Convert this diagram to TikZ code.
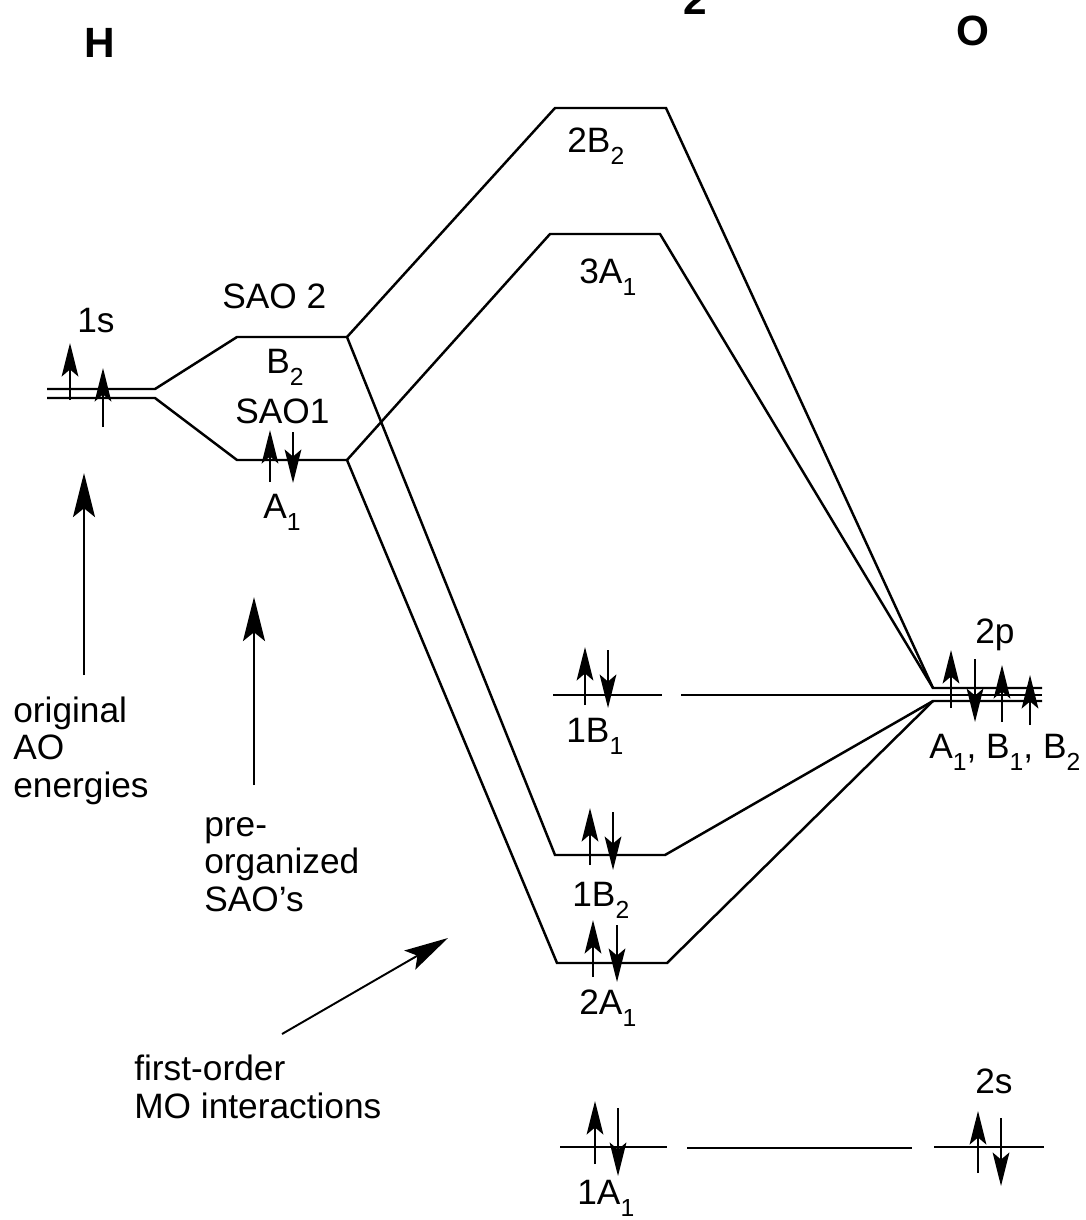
\documentclass[tikz,border=0pt]{standalone}
\usepackage{fontspec}
\setmainfont{Liberation Sans}
\usetikzlibrary{arrows.meta}
\newcommand\sbs[1]{\raisebox{-0.36em}{\fontsize{14}{14}\selectfont #1}}
\begin{document}
\begin{tikzpicture}[x=0.567pt,y=-0.567pt,
  lvl/.style={line width=1.4pt},
  spin/.style={line width=1.2pt,-{Stealth[length=19pt,width=9.5pt,inset=4pt]}},
  note/.style={line width=1.1pt,-{Stealth[length=25pt,width=12.5pt,inset=5pt]}},
  lab/.style={inner sep=0pt,anchor=base west,font={\fontsize{20}{21.5}\selectfont}},
  txt/.style={inner sep=0pt,anchor=base west,align=left,font={\fontsize{20}{21}\selectfont}},
  atom/.style={inner sep=0pt,anchor=base west,font={\fontsize{24}{28}\selectfont\bfseries}}]
\useasboundingbox (0,0) rectangle (1086,1220);
% level end points
\coordinate (H1a) at (47,389); \coordinate (H1b) at (155,389);
\coordinate (H2a) at (47,398); \coordinate (H2b) at (155,398);
\coordinate (S2a) at (237,337); \coordinate (S2b) at (347,337);
\coordinate (S1a) at (237,460); \coordinate (S1b) at (347,460);
\coordinate (B22a) at (555,108); \coordinate (B22b) at (666,108);
\coordinate (A13a) at (550,234); \coordinate (A13b) at (660,234);
\coordinate (B11a) at (553,695); \coordinate (B11b) at (662,695);
\coordinate (nb1a) at (681,695); \coordinate (Opm) at (1042,695);
\coordinate (Ota) at (933,688); \coordinate (Otb) at (1042,688);
\coordinate (Oba) at (933,701); \coordinate (Obb) at (1042,701);
\coordinate (B12a) at (555,855); \coordinate (B12b) at (665,855);
\coordinate (A12a) at (557,963); \coordinate (A12b) at (667,963);
\coordinate (A11a) at (560,1147); \coordinate (A11b) at (667,1147);
\coordinate (nb2a) at (687,1148); \coordinate (nb2b) at (912,1148);
\coordinate (O2sa) at (934,1147); \coordinate (O2sb) at (1044,1147);
% levels and correlation lines
\draw[lvl] (H1a) -- (H1b) -- (S2a) -- (S2b) -- (B22a) -- (B22b) -- (Ota) -- (Otb);
\draw[lvl] (H2a) -- (H2b) -- (S1a) -- (S1b) -- (A12a) -- (A12b) -- (Oba) -- (Obb);
\draw[lvl] (S1b) -- (A13a) -- (A13b) -- (Ota);
\draw[lvl] (S2b) -- (B12a) -- (B12b) -- (Oba);
\draw[lvl] (B11a) -- (B11b);
\draw[lvl] (nb1a) -- (Opm);
\draw[lvl] (A11a) -- (A11b);
\draw[lvl] (nb2a) -- (nb2b);
\draw[lvl] (O2sa) -- (O2sb);
% electrons
\draw[spin] (70,400) -- (70,343);
\draw[spin] (103,427) -- (103,368);
\draw[spin] (270,482) -- (270,430);
\draw[spin] (293,432) -- (293,483);
\draw[spin] (585,705) -- (585,647);
\draw[spin] (608,650) -- (608,708);
\draw[spin] (590,865) -- (590,808);
\draw[spin] (613,812) -- (613,870);
\draw[spin] (593,977) -- (593,920);
\draw[spin] (617,925) -- (617,982);
\draw[spin] (595,1164) -- (595,1101);
\draw[spin] (618,1108) -- (618,1176);
\draw[spin] (978,1173) -- (978,1111);
\draw[spin] (1001,1118) -- (1001,1186);
\draw[spin] (951,708) -- (951,650);
\draw[spin] (975,659) -- (975,722);
\draw[spin] (1002,722) -- (1002,665);
\draw[spin] (1030,725) -- (1030,675);
% atom labels
\node[atom] (tH) at (84,57) {H};
\node[atom] (tO) at (956,45) {O};
\node[atom] (t2) at (683,14) {2};
% level labels
\node[lab] (l1s) at (77,332) {1s};
\node[lab] (lsao2) at (222,308) {SAO 2};
\node[lab] (lb2) at (266,373) {B\sbs{2}};
\node[lab] (lsao1) at (235,423) {SAO1};
\node[lab] (la1) at (263,518) {A\sbs{1}};
\node[lab] (l2b2) at (567,152) {2B\sbs{2}};
\node[lab] (l3a1) at (579,283) {3A\sbs{1}};
\node[lab] (l1b1) at (566,742) {1B\sbs{1}};
\node[lab] (l1b2) at (572,906) {1B\sbs{2}};
\node[lab] (l2a1) at (579,1014) {2A\sbs{1}};
\node[lab] (l1a1) at (577,1204) {1A\sbs{1}};
\node[lab] (l2s) at (975,1093) {2s};
\node[lab] (l2p) at (975,643) {2p};
\node[lab] (lsym) at (929,758) {A\sbs{1}, B\sbs{1}, B\sbs{2}};
% annotations (anchor = baseline of last line)
\node[txt] (torig) at (13,797) {original\\AO\\energies};
\node[txt] (tpre) at (204,911) {pre-\\organized\\SAO's};
\node[txt] (tfirst) at (134,1118) {first-order\\MO interactions};
\coordinate (n1s) at (84,675); \coordinate (n1e) at (84,473);
\coordinate (n2s) at (254,785); \coordinate (n2e) at (254,597);
\coordinate (n3s) at (282,1034); \coordinate (n3e) at (448,938);
\draw[note] (n1s) -- (n1e);
\draw[note] (n2s) -- (n2e);
\draw[note] (n3s) -- (n3e);
\end{tikzpicture}
\end{document}
